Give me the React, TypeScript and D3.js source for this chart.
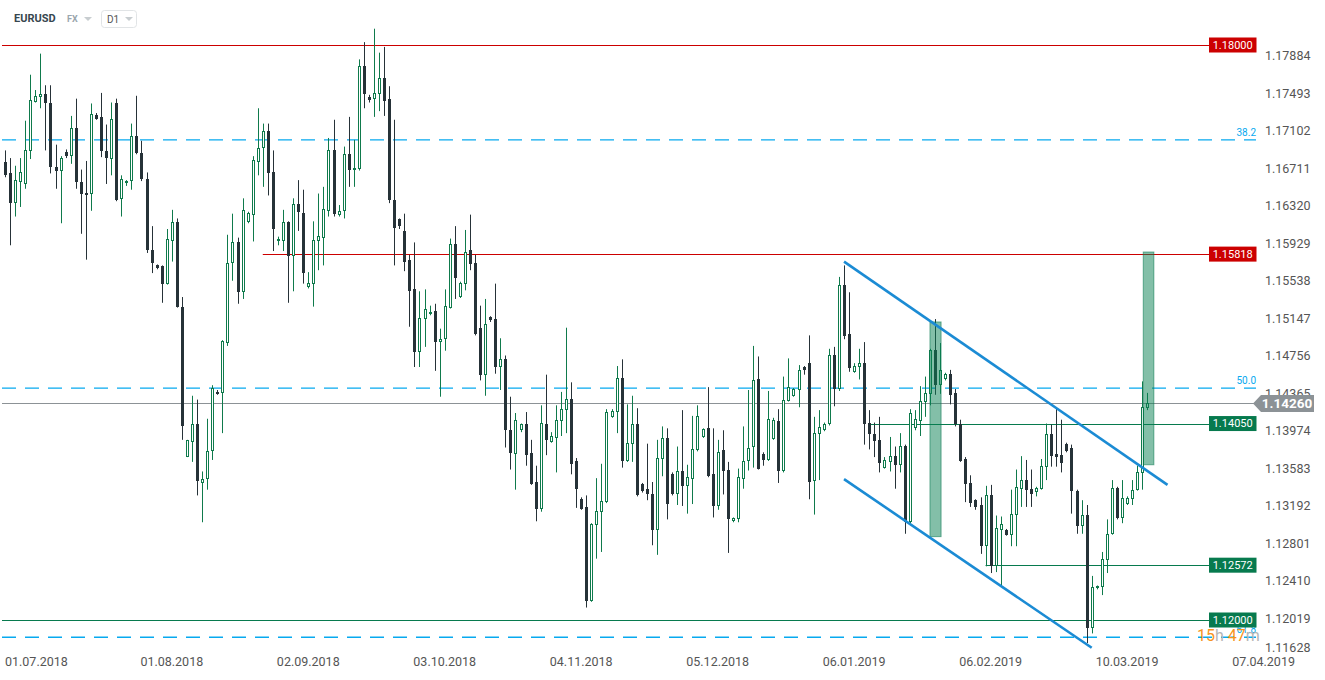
import React from 'react';
import * as d3 from 'd3';

const opens = [
  1.1678,1.1666,1.1635,1.1657,1.1655,1.1689,1.1741,1.1746,1.1749,1.1739,
  1.1673,1.1668,1.1688,1.1684,1.1713,1.1657,1.1646,1.1644,1.1727,1.1725,
  1.1689,1.1681,1.1739,1.1639,1.1657,1.1658,1.1705,1.1687,1.1660,1.1586,
  1.1570,1.1569,1.1551,1.1596,1.1615,1.1527,1.1370,1.1386,1.1405,1.1343,
  1.1347,1.1376,1.1438,1.1437,1.1489,1.1572,1.1594,1.1542,1.1615,1.1623,
  1.1678,1.1692,1.1710,1.1667,1.1595,1.1596,1.1615,1.1580,1.1634,1.1625,
  1.1547,1.1551,1.1596,1.1599,1.1627,1.1690,1.1623,1.1627,1.1686,1.1670,
  1.1671,1.1778,1.1746,1.1744,1.1749,1.1766,1.1744,1.1638,1.1618,1.1606,
  1.1576,1.1545,1.1480,1.1514,1.1519,1.1522,1.1490,1.1493,1.1526,1.1592,
  1.1537,1.1551,1.1586,1.1573,1.1505,1.1456,1.1516,1.1514,1.1464,1.1472,
  1.1398,1.1373,1.1398,1.1404,1.1374,1.1344,1.1316,1.1405,1.1386,1.1390,
  1.1408,1.1419,1.1431,1.1366,1.1326,1.1318,1.1220,1.1299,1.1313,1.1323,
  1.1412,1.1417,1.1453,1.1366,1.1384,1.1405,1.1342,1.1337,1.1332,1.1294,
  1.1368,1.1390,1.1352,1.1332,1.1355,1.1340,1.1347,1.1377,1.1391,1.1400,
  1.1352,1.1319,1.1377,1.1357,1.1303,1.1305,1.1347,1.1366,1.1381,1.1452,
  1.1373,1.1367,1.1389,1.1408,1.1355,1.1429,1.1434,1.1440,1.1464,1.1468,
  1.1345,1.1394,1.1398,1.1404,1.1477,1.1441,1.1550,1.1498,1.1459,1.1464,
  1.1468,1.1406,1.1394,1.1388,1.1359,1.1365,1.1371,1.1362,1.1382,1.1302,
  1.1400,1.1408,1.1427,1.1436,1.1482,1.1445,1.1451,1.1457,1.1437,1.1405,
  1.1368,1.1343,1.1325,1.1320,1.1277,1.1330,1.1256,1.1294,1.1294,1.1289,
  1.1310,1.1337,1.1346,1.1337,1.1334,1.1337,1.1360,1.1394,1.1373,1.1372,
  1.1384,1.1379,1.1335,1.1298,1.1310,1.1192,1.1233,1.1234,1.1263,1.1290,
  1.1338,1.1306,1.1321,1.1326,1.1336,1.1353,1.1421,
];

const highs = [
  1.1690,1.1682,1.1674,1.1682,1.1721,1.1769,1.1753,1.1791,1.1758,1.1758,
  1.1696,1.1684,1.1691,1.1726,1.1744,1.1670,1.1679,1.1739,1.1729,1.1750,
  1.1717,1.1740,1.1744,1.1664,1.1659,1.1718,1.1747,1.1700,1.1667,1.1611,
  1.1571,1.1570,1.1608,1.1628,1.1619,1.1537,1.1388,1.1434,1.1430,1.1355,
  1.1410,1.1445,1.1440,1.1492,1.1602,1.1624,1.1599,1.1640,1.1626,1.1684,
  1.1734,1.1718,1.1718,1.1690,1.1600,1.1628,1.1616,1.1640,1.1659,1.1649,
  1.1563,1.1616,1.1645,1.1652,1.1703,1.1722,1.1633,1.1694,1.1725,1.1701,
  1.1785,1.1803,1.1748,1.1817,1.1792,1.1798,1.1757,1.1722,1.1619,1.1624,
  1.1581,1.1594,1.1543,1.1545,1.1528,1.1530,1.1504,1.1545,1.1598,1.1611,
  1.1553,1.1607,1.1623,1.1581,1.1528,1.1535,1.1517,1.1551,1.1494,1.1476,
  1.1433,1.1416,1.1405,1.1417,1.1388,1.1361,1.1424,1.1456,1.1396,1.1424,
  1.1438,1.1505,1.1448,1.1369,1.1328,1.1330,1.1301,1.1348,1.1363,1.1420,
  1.1420,1.1465,1.1472,1.1425,1.1434,1.1421,1.1343,1.1384,1.1344,1.1388,
  1.1402,1.1400,1.1354,1.1381,1.1419,1.1362,1.1413,1.1424,1.1400,1.1443,
  1.1400,1.1388,1.1398,1.1365,1.1307,1.1358,1.1402,1.1440,1.1486,1.1475,
  1.1375,1.1439,1.1411,1.1420,1.1454,1.1473,1.1442,1.1466,1.1465,1.1497,
  1.1412,1.1419,1.1406,1.1483,1.1485,1.1558,1.1570,1.1542,1.1468,1.1483,
  1.1490,1.1419,1.1406,1.1412,1.1370,1.1391,1.1381,1.1395,1.1383,1.1420,
  1.1419,1.1444,1.1454,1.1483,1.1514,1.1489,1.1458,1.1461,1.1441,1.1409,
  1.1370,1.1351,1.1326,1.1328,1.1340,1.1341,1.1309,1.1308,1.1295,1.1336,
  1.1357,1.1371,1.1367,1.1357,1.1339,1.1368,1.1405,1.1404,1.1421,1.1409,
  1.1385,1.1383,1.1336,1.1325,1.1320,1.1246,1.1236,1.1271,1.1305,1.1346,
  1.1339,1.1346,1.1329,1.1346,1.1361,1.1449,1.1437,
];

const lows = [
  1.1662,1.1591,1.1621,1.1631,1.1650,1.1681,1.1740,1.1734,1.1690,1.1666,
  1.1650,1.1614,1.1682,1.1676,1.1650,1.1603,1.1576,1.1627,1.1722,1.1683,
  1.1655,1.1664,1.1637,1.1621,1.1653,1.1649,1.1686,1.1658,1.1583,1.1562,
  1.1566,1.1531,1.1550,1.1574,1.1526,1.1388,1.1370,1.1365,1.1330,1.1302,
  1.1336,1.1367,1.1435,1.1395,1.1486,1.1554,1.1530,1.1535,1.1614,1.1595,
  1.1664,1.1652,1.1643,1.1585,1.1591,1.1585,1.1531,1.1543,1.1606,1.1551,
  1.1546,1.1527,1.1565,1.1570,1.1621,1.1621,1.1621,1.1619,1.1652,1.1652,
  1.1669,1.1734,1.1740,1.1725,1.1731,1.1726,1.1635,1.1570,1.1608,1.1564,
  1.1506,1.1464,1.1464,1.1485,1.1518,1.1460,1.1433,1.1481,1.1525,1.1535,
  1.1536,1.1544,1.1565,1.1497,1.1450,1.1434,1.1511,1.1457,1.1440,1.1380,
  1.1357,1.1336,1.1396,1.1361,1.1341,1.1303,1.1313,1.1372,1.1385,1.1354,
  1.1392,1.1395,1.1352,1.1317,1.1315,1.1213,1.1219,1.1264,1.1271,1.1322,
  1.1411,1.1395,1.1359,1.1365,1.1365,1.1329,1.1333,1.1325,1.1278,1.1268,
  1.1350,1.1305,1.1330,1.1320,1.1319,1.1311,1.1321,1.1376,1.1390,1.1349,
  1.1307,1.1315,1.1331,1.1270,1.1302,1.1302,1.1337,1.1356,1.1359,1.1357,
  1.1361,1.1366,1.1388,1.1343,1.1354,1.1428,1.1433,1.1422,1.1456,1.1326,
  1.1310,1.1346,1.1397,1.1403,1.1423,1.1439,1.1493,1.1459,1.1458,1.1451,
  1.1383,1.1378,1.1370,1.1354,1.1358,1.1355,1.1337,1.1354,1.1290,1.1301,
  1.1398,1.1392,1.1412,1.1424,1.1435,1.1436,1.1450,1.1425,1.1402,1.1365,
  1.1323,1.1318,1.1315,1.1269,1.1256,1.1249,1.1250,1.1235,1.1288,1.1277,
  1.1277,1.1318,1.1318,1.1318,1.1329,1.1336,1.1346,1.1360,1.1360,1.1354,
  1.1375,1.1311,1.1290,1.1290,1.1176,1.1186,1.1232,1.1226,1.1249,1.1289,
  1.1305,1.1301,1.1320,1.1320,1.1335,1.1336,1.1419,
];

const closes = [
  1.1664,1.1635,1.1659,1.1667,1.1690,1.1743,1.1747,1.1749,1.1739,1.1673,
  1.1668,1.1682,1.1684,1.1713,1.1657,1.1644,1.1643,1.1728,1.1723,1.1689,
  1.1682,1.1723,1.1638,1.1660,1.1658,1.1705,1.1687,1.1660,1.1586,1.1573,
  1.1567,1.1551,1.1598,1.1615,1.1527,1.1402,1.1388,1.1405,1.1345,1.1347,
  1.1376,1.1442,1.1436,1.1491,1.1572,1.1594,1.1542,1.1628,1.1625,1.1680,
  1.1693,1.1710,1.1666,1.1608,1.1598,1.1615,1.1580,1.1634,1.1626,1.1562,
  1.1552,1.1597,1.1601,1.1629,1.1690,1.1624,1.1627,1.1686,1.1670,1.1672,
  1.1778,1.1749,1.1743,1.1750,1.1766,1.1742,1.1638,1.1609,1.1611,1.1574,
  1.1543,1.1480,1.1515,1.1524,1.1521,1.1490,1.1493,1.1528,1.1592,1.1557,
  1.1552,1.1584,1.1571,1.1498,1.1456,1.1509,1.1513,1.1464,1.1472,1.1398,
  1.1374,1.1409,1.1404,1.1372,1.1342,1.1316,1.1406,1.1388,1.1392,1.1409,
  1.1420,1.1431,1.1363,1.1337,1.1316,1.1220,1.1300,1.1314,1.1324,1.1417,
  1.1418,1.1453,1.1366,1.1385,1.1405,1.1330,1.1335,1.1331,1.1294,1.1369,
  1.1390,1.1321,1.1331,1.1355,1.1340,1.1349,1.1378,1.1413,1.1399,1.1350,
  1.1319,1.1375,1.1356,1.1305,1.1306,1.1349,1.1366,1.1379,1.1450,1.1358,
  1.1367,1.1410,1.1409,1.1355,1.1430,1.1443,1.1441,1.1461,1.1461,1.1344,
  1.1395,1.1401,1.1405,1.1477,1.1441,1.1550,1.1496,1.1463,1.1465,1.1468,
  1.1405,1.1394,1.1387,1.1364,1.1367,1.1371,1.1362,1.1382,1.1302,1.1416,
  1.1410,1.1429,1.1437,1.1482,1.1445,1.1461,1.1457,1.1435,1.1404,1.1366,
  1.1342,1.1322,1.1318,1.1277,1.1330,1.1256,1.1296,1.1300,1.1289,1.1311,
  1.1339,1.1346,1.1336,1.1332,1.1338,1.1361,1.1394,1.1371,1.1370,1.1364,
  1.1376,1.1335,1.1298,1.1310,1.1192,1.1234,1.1235,1.1264,1.1290,1.1338,
  1.1306,1.1327,1.1327,1.1336,1.1354,1.1422,1.1426,
];

const yTickValues = [
  1.17884, 1.17493, 1.17102, 1.16711, 1.1632, 1.15929, 1.15538, 1.15147, 1.14756,
  1.14365, 1.13974, 1.13583, 1.13192, 1.12801, 1.1241, 1.12019, 1.11628,
];

const dateLabels = [
  '01.07.2018', '01.08.2018', '02.09.2018', '03.10.2018', '04.11.2018',
  '05.12.2018', '06.01.2019', '06.02.2019', '10.03.2019', '07.04.2019',
];
const dateIndices = [5, 33, 60, 87, 114, 141, 168, 195, 222, 249];

// horizontal support / resistance levels (startIndex null = full width)
const levelValues = [1.18, 1.15818, 1.1405, 1.12572, 1.12];
const levelLabels = ['1.18000', '1.15818', '1.14050', '1.12572', '1.12000'];
const levelStart = [null, 51, 171, 194, null];
const levelKind = ['red', 'red', 'green', 'green', 'green'];

const fibValues = [1.1701, 1.1442, 1.1182];
const fibLabels = ['38.2', '50.0', '61.8'];

const lastPrice = 1.1426;
const lastPriceLabel = '1.14260';

const channelUpper = [[166, 1.1574], [230, 1.1341]];
const channelLower = [[166, 1.1347], [215, 1.1171]];

const boxStart = [183, 225.2];
const boxEnd = [185.2, 227.3];
const boxTop = [1.1511, 1.1584];
const boxBottom = [1.1287, 1.1362];

const W = 1325;
const H = 680;
const FONT = 'Roboto, "Noto Sans", sans-serif';

const RED = '#cc0000';
const GREEN_LINE = '#077a4e';
const CANDLE_UP = '#0f7a4c';
const CANDLE_DOWN = '#263238';
const FIB = '#07a9ef';
const TREND = '#1b8bd4';

export default function App() {
  const x = d3.scaleLinear().domain([0, opens.length - 1]).range([5, 1147.3]);
  const y = d3.scaleLinear().domain([1.12, 1.18]).range([620, 45]);
  const leftEdge = 2;
  const rightEdge = 1209;
  const line = d3.line<number[]>().x((d) => x(d[0])).y((d) => y(d[1]));

  const candles = opens.map((o, i) => {
    const c = closes[i];
    const h = highs[i];
    const l = lows[i];
    const up = c >= o;
    const cx = Math.round(x(i));
    const yTop = Math.round(y(Math.max(o, c)));
    const yBot = Math.round(y(Math.min(o, c)));
    const col = up ? CANDLE_UP : CANDLE_DOWN;
    return (
      <g key={i}>
        <line x1={cx + 0.5} x2={cx + 0.5} y1={y(h)} y2={y(l)} stroke={col} strokeWidth={1} />
        {up ? (
          <rect x={cx - 0.5} y={yTop + 0.5} width={2} height={Math.max(1, yBot - yTop - 1)} fill="#fff" stroke={col} strokeWidth={1} />
        ) : (
          <rect x={cx - 1} y={yTop} width={3} height={Math.max(1.5, yBot - yTop)} fill={col} />
        )}
      </g>
    );
  });

  return (
    <svg width={W} height={H} style={{ position: 'absolute', left: 0, top: 0, background: '#fff' }} fontFamily={FONT}>
      {/* header */}
      <text x={14} y={22} fontSize={11} fontWeight={700} fill="#37474f">EURUSD</text>
      <text x={67} y={22} fontSize={9} fontWeight={700} fill="#9aa6ad">FX</text>
      <path d="M84,17 L92,17 L88,21 Z" fill="#c8cdd0" />
      <rect x={101.5} y={10.5} width={35} height={17} rx={3} fill="#fff" stroke="#e1e4e6" />
      <text x={107} y={23} fontSize={10} fill="#555">D1</text>
      <path d="M125,17 L133,17 L129,21 Z" fill="#c8cdd0" />

      {/* fib dashed lines */}
      {fibValues.map((v, i) => (
        <g key={'f' + i}>
          <line x1={leftEdge} x2={1256} y1={y(v)} y2={y(v)} stroke={FIB} strokeWidth={1.4} strokeDasharray="14,9" />
          <text x={1256} y={y(v) - 4} textAnchor="end" fontSize={10} fill={FIB}>{fibLabels[i]}</text>
        </g>
      ))}

      {/* levels */}
      {levelValues.map((v, i) => (
        <line
          key={'l' + i}
          x1={levelStart[i] === null ? leftEdge : x(levelStart[i] as number)}
          x2={rightEdge}
          y1={Math.round(y(v)) + 0.5}
          y2={Math.round(y(v)) + 0.5}
          stroke={levelKind[i] === 'red' ? RED : GREEN_LINE}
          strokeWidth={1.2}
        />
      ))}

      {/* last price line */}
      <line x1={leftEdge} x2={1254} y1={Math.round(y(lastPrice)) + 0.5} y2={Math.round(y(lastPrice)) + 0.5} stroke="#8c9296" strokeWidth={1.2} />

      {/* candles */}
      {candles}

      {/* target boxes */}
      {boxStart.map((s, i) => (
        <rect
          key={'b' + i}
          x={x(s)}
          y={y(boxTop[i])}
          width={x(boxEnd[i]) - x(s)}
          height={y(boxBottom[i]) - y(boxTop[i])}
          fill="rgba(8,128,82,0.5)"
          stroke="rgba(8,120,80,0.55)"
          strokeWidth={1}
        />
      ))}

      {/* channel lines */}
      <path d={line(channelUpper) || ''} stroke={TREND} strokeWidth={2.6} fill="none" />
      <path d={line(channelLower) || ''} stroke={TREND} strokeWidth={2.6} fill="none" />

      {/* y axis tick labels */}
      {yTickValues.map((v) => (
        <text key={'y' + v} x={1265} y={Math.min(y(v), 648)} dy="0.35em" fontSize={12.5} fill="#555">
          {v.toFixed(5)}
        </text>
      ))}

      {/* level labels */}
      {levelValues.map((v, i) => (
        <g key={'ll' + i}>
          <rect x={1209} y={y(v) - 7.5} width={47.5} height={15} fill={levelKind[i] === 'red' ? RED : GREEN_LINE} />
          <text x={1232.7} y={y(v)} dy="0.35em" textAnchor="middle" fontSize={11} fill="#fff">{levelLabels[i]}</text>
        </g>
      ))}

      {/* last price label */}
      <path
        d={`M1253,${y(lastPrice)} L1261,${y(lastPrice) - 8.5} L1314,${y(lastPrice) - 8.5} L1314,${y(lastPrice) + 8.5} L1261,${y(lastPrice) + 8.5} Z`}
        fill="#8c9296"
      />
      <text x={1287} y={y(lastPrice)} dy="0.36em" textAnchor="middle" fontSize={13.5} fontWeight={700} fill="#fff">{lastPriceLabel}</text>

      {/* countdown */}
      <text x={1197} y={641} fontSize={16} fill="#f7941d">
        15<tspan fill="#b5b5b5">h</tspan> 47<tspan fill="#b5b5b5">m</tspan>
      </text>

      {/* date labels */}
      {dateLabels.map((d, i) => {
        const cx = x(dateIndices[i]);
        const clampLeft = cx - 31 < 5;
        return (
          <text
            key={'d' + i}
            x={clampLeft ? 5 : cx}
            y={666}
            textAnchor={clampLeft ? 'start' : 'middle'}
            fontSize={12.5}
            fill="#555"
          >
            {d}
          </text>
        );
      })}
    </svg>
  );
}
